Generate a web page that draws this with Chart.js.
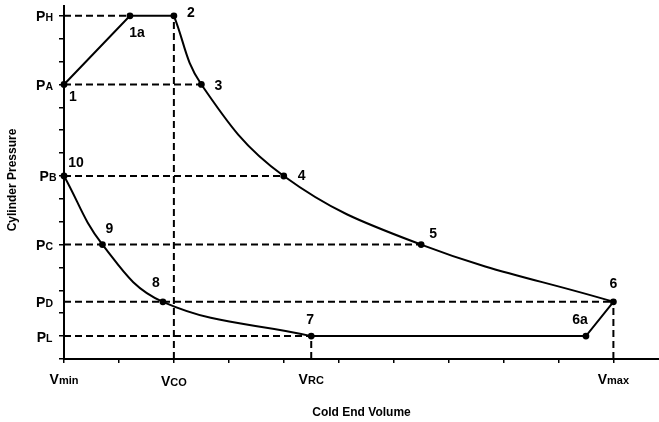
<!DOCTYPE html>
<html>
<head>
<meta charset="utf-8">
<script src="https://cdn.jsdelivr.net/npm/chart.js@4/dist/chart.umd.min.js"></script>
<style>
  html, body { margin: 0; padding: 0; background: #fff; overflow: hidden; }
  #wrap { width: 659px; height: 422px; position: relative; }
</style>
</head>
<body>
<div id="wrap"><canvas id="pv"></canvas></div>
<script>
// State points of the cycle: cold end volume (V) and cylinder pressure (P)
const pointNames = ['1', '1a', '2', '3', '4', '5', '6', '6a', '7', '8', '9', '10'];
const volumes    = [0, 1.2, 2, 2.5, 4, 6.5, 10, 9.5, 4.5, 1.8, 0.7, 0];
const pressures  = [12, 15, 15, 12, 8, 5, 2.5, 1, 1, 2.5, 5, 8];

// Path pieces, by point name
const expansionPath   = ['2', '3', '4', '5', '6'];
const compressionPath = ['10', '9', '8', '7'];
const heatingPath     = ['1', '1a', '2'];
const exhaustPath     = ['7', '6a', '6'];

// Named pressure levels on the vertical axis
const pressureSubs   = ['H', 'A', 'B', 'C', 'D', 'L'];
const pressureLevels = [15, 12, 8, 5, 2.5, 1];
const pressureGuideTo = ['1a', '3', '4', '5', '6', '7'];

// Named volumes on the horizontal axis
const volumeSubs   = ['min', 'CO', 'RC', 'max'];
const volumeLevels = [0, 2, 4.5, 10];
const volumeGuideTo = [null, '2', '7', '6'];

const axisTitleX = 'Cold End Volume';
const axisTitleY = 'Cylinder Pressure';

const FONT = '"Liberation Sans", Arial, Helvetica, sans-serif';

function pt(name) {
  const i = pointNames.indexOf(name);
  return { x: volumes[i], y: pressures[i] };
}
const path = names => names.map(pt);

// label placement around each marker (pixels)
const labelOffset = {
  '1': [9, 13], '1a': [7, 17], '2': [17, -3], '3': [17, 2], '4': [18, 0],
  '5': [12, -10], '6': [0, -18], '6a': [-6, -16], '7': [-1, -16],
  '8': [-7, -19], '9': [7, -15], '10': [12, -13]
};
// right edge of each pressure label, and baseline shift of each volume label
const pressureLabelRight = [53, 53, 56.5, 53, 53, 52.5];
const volumeLabelShift   = [0, 2, 0, 0];

const guideStyle = {
  borderColor: '#000', borderWidth: 2, borderDash: [7, 4],
  pointRadius: 0, fill: false, order: 2
};

const datasets = [];
pressureLevels.forEach((p, i) => {
  const end = pt(pressureGuideTo[i]);
  datasets.push(Object.assign({ data: [{ x: 0, y: p }, { x: end.x, y: p }] }, guideStyle));
});
volumeLevels.forEach((v, i) => {
  if (!volumeGuideTo[i]) return;
  const end = pt(volumeGuideTo[i]);
  datasets.push(Object.assign({ data: [{ x: v, y: 0 }, { x: v, y: end.y }] }, guideStyle));
});

const curveStyle = { borderColor: '#000', borderWidth: 2, pointRadius: 0, fill: false, order: 1 };
datasets.push(Object.assign({ data: path(expansionPath), tension: 0.4 }, curveStyle));
datasets.push(Object.assign({ data: path(compressionPath), tension: 0.4 }, curveStyle));
datasets.push(Object.assign({ data: path(heatingPath), tension: 0 }, curveStyle));
datasets.push(Object.assign({ data: path(exhaustPath), tension: 0 }, curveStyle));

// markers at every state point
datasets.push({
  type: 'scatter',
  data: pointNames.map(pt),
  pointRadius: 3.4, pointBackgroundColor: '#000', pointBorderColor: '#000',
  pointBorderWidth: 0, showLine: false, order: 0
});

function drawSubText(ctx, main, sub, x, y, align, mainSize, subSize) {
  ctx.font = 'bold ' + mainSize + 'px ' + FONT;
  const wm = ctx.measureText(main).width;
  ctx.font = 'bold ' + subSize + 'px ' + FONT;
  const ws = ctx.measureText(sub).width;
  const total = wm + ws;
  const x0 = align === 'right' ? x - total : x - total / 2;
  ctx.textAlign = 'left';
  ctx.textBaseline = 'alphabetic';
  ctx.font = 'bold ' + mainSize + 'px ' + FONT;
  ctx.fillText(main, x0, y);
  ctx.font = 'bold ' + subSize + 'px ' + FONT;
  ctx.fillText(sub, x0 + wm, y);
}

const labelPlugin = {
  id: 'pvLabels',
  afterDraw(chart) {
    const ctx = chart.ctx;
    const xs = chart.scales.x, ys = chart.scales.y;
    const area = chart.chartArea;
    ctx.save();
    ctx.fillStyle = '#000';

    pressureLevels.forEach((p, i) => {
      drawSubText(ctx, 'P', pressureSubs[i], pressureLabelRight[i], ys.getPixelForValue(p) + 5.5, 'right', 14, 10.5);
    });
    volumeLevels.forEach((v, i) => {
      drawSubText(ctx, 'V', volumeSubs[i], xs.getPixelForValue(v), 384 + volumeLabelShift[i], 'center', 14, 11);
    });

    ctx.font = 'bold 14px ' + FONT;
    ctx.textAlign = 'center';
    ctx.textBaseline = 'middle';
    pointNames.forEach((n, i) => {
      const off = labelOffset[n];
      ctx.fillText(n, xs.getPixelForValue(volumes[i]) + off[0], ys.getPixelForValue(pressures[i]) + off[1]);
    });

    ctx.font = 'bold 12px ' + FONT;
    ctx.fillText(axisTitleX, (area.left + area.right) / 2, 413);
    ctx.translate(12.5, 180);
    ctx.rotate(-Math.PI / 2);
    ctx.fillText(axisTitleY, 0, 0);
    ctx.restore();
  }
};

const intTicks = n => scale => {
  scale.ticks = [];
  for (let v = 0; v <= n; v++) scale.ticks.push({ value: v });
};

new Chart(document.getElementById('pv'), {
  type: 'line',
  data: { datasets },
  options: {
    responsive: true,
    maintainAspectRatio: false,
    animation: false,
    clip: false,
    layout: { autoPadding: false, padding: { top: 6, right: 0, left: 0, bottom: 0 } },
    plugins: { legend: { display: false }, tooltip: { enabled: false }, title: { display: false } },
    scales: {
      x: {
        type: 'linear', min: 0, max: 10.83,
        afterBuildTicks: intTicks(10),
        afterFit: s => { s.height = 63; },
        ticks: { display: false },
        grid: { drawOnChartArea: false, drawTicks: true, tickLength: 4, color: '#000', lineWidth: 1.5 },
        border: { display: true, color: '#000', width: 2 }
      },
      y: {
        type: 'linear', min: 0, max: 15.43,
        afterBuildTicks: intTicks(15),
        afterFit: s => { s.width = 64; },
        ticks: { display: false },
        grid: { drawOnChartArea: false, drawTicks: true, tickLength: 5, color: '#000', lineWidth: 1.5 },
        border: { display: true, color: '#000', width: 2 }
      }
    }
  },
  plugins: [labelPlugin]
});
</script>
</body>
</html>
